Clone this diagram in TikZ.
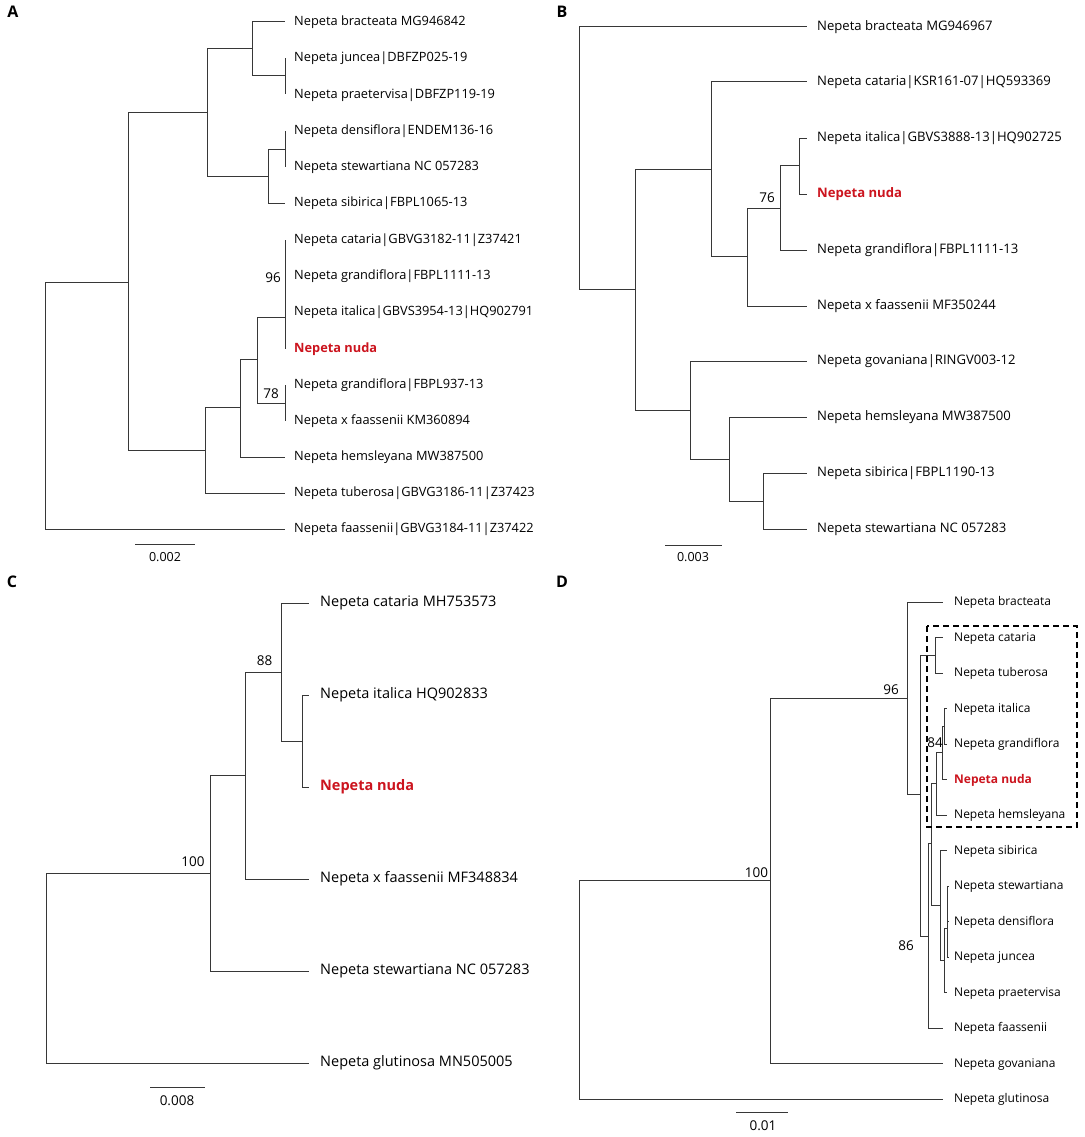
\documentclass[tikz,border=0pt]{standalone}
\usepackage{fontspec}
\setmainfont{Open Sans}
\usetikzlibrary{arrows}
\definecolor{nudared}{RGB}{204,20,30}
\definecolor{treegray}{RGB}{55,55,55}

\begin{document}
\begin{tikzpicture}[x=1pt,y=-1pt]
		\tikzset{branch/.style = {draw=treegray, line width=1pt}}
		\tikzset{tip/.style = {inner sep=0pt, anchor=west, text height=0.72em, text depth=0pt}}
		\tikzset{leafA/.style = {tip, font=\fontsize{12.8}{15}\selectfont}}
		\tikzset{leafB/.style = {tip, font=\fontsize{13.1}{15}\selectfont}}
		\tikzset{leafC/.style = {tip, font=\fontsize{14.5}{17}\selectfont}}
		\tikzset{leafD/.style = {tip, font=\fontsize{12}{14}\selectfont}}
		\tikzset{hl/.style = {text=nudared}}
		\tikzset{support/.style = {inner sep=0pt, font=\fontsize{13.5}{15}\selectfont}}
		\tikzset{panel/.style = {inner sep=0pt, font=\fontsize{16}{18}\selectfont\bfseries}}
		\tikzset{scalebar/.style = {draw=treegray, line width=1pt}}
		\tikzset{group/.style = {draw=black, line width=2pt, dash pattern=on 6pt off 4pt}}

		\fill[white] (0,0) rectangle (1084,1137);
		\useasboundingbox (0,0) rectangle (1084,1137);

		% panel A
		\node[panel] (A) at (13,12) {A};
		\coordinate (A_r) at (45,405);
		\coordinate (A_4) at (128,282);
		\coordinate (A_2) at (207,113);
		\coordinate (A_1) at (252,49);
		\coordinate (A_jp) at (285,76);
		\coordinate (A_3) at (268,176);
		\coordinate (A_ds) at (285,149);
		\coordinate (A_5) at (205,450);
		\coordinate (A_6) at (240,407);
		\coordinate (A_7) at (257,359);
		\coordinate (A_96) at (285,317);
		\coordinate (A_78) at (285,403);

		\coordinate (A_t1) at (285,22);
		\coordinate (A_t2) at (285,58);
		\coordinate (A_t3) at (285,94.5);
		\coordinate (A_t4) at (285,131);
		\coordinate (A_t5) at (285,167);
		\coordinate (A_t6) at (285,203);
		\coordinate (A_t7) at (285,240);
		\coordinate (A_t8) at (285,276);
		\coordinate (A_t9) at (285,312);
		\coordinate (A_t10) at (285,349);
		\coordinate (A_t11) at (285,385);
		\coordinate (A_t12) at (285,421);
		\coordinate (A_t13) at (285,457);
		\coordinate (A_t14) at (285,493);
		\coordinate (A_t15) at (285,529);

		\node[leafA] (A_l1) at (294,22) {Nepeta bracteata MG946842};
		\node[leafA] (A_l2) at (294,58) {Nepeta juncea|DBFZP025-19};
		\node[leafA] (A_l3) at (294,94.5) {Nepeta praetervisa|DBFZP119-19};
		\node[leafA] (A_l4) at (294,131) {Nepeta densiflora|ENDEM136-16};
		\node[leafA] (A_l5) at (294,167) {Nepeta stewartiana NC 057283};
		\node[leafA] (A_l6) at (294,203) {Nepeta sibirica|FBPL1065-13};
		\node[leafA] (A_l7) at (294,240) {Nepeta cataria|GBVG3182-11|Z37421};
		\node[leafA] (A_l8) at (294,276) {Nepeta grandiflora|FBPL1111-13};
		\node[leafA] (A_l9) at (294,312) {Nepeta italica|GBVS3954-13|HQ902791};
		\node[leafA, hl] (A_l10) at (294,349) {\bfseries Nepeta nuda};
		\node[leafA] (A_l11) at (294,385) {Nepeta grandiflora|FBPL937-13};
		\node[leafA] (A_l12) at (294,421) {Nepeta x faassenii KM360894};
		\node[leafA] (A_l13) at (294,457) {Nepeta hemsleyana MW387500};
		\node[leafA] (A_l14) at (294,493) {Nepeta tuberosa|GBVG3186-11|Z37423};
		\node[leafA] (A_l15) at (294,529) {Nepeta faassenii|GBVG3184-11|Z37422};

		\draw[branch] (A_r) |- (A_4);
		\draw[branch] (A_r) |- (A_t15);
		\draw[branch] (A_4) |- (A_2);
		\draw[branch] (A_4) |- (A_5);
		\draw[branch] (A_2) |- (A_1);
		\draw[branch] (A_2) |- (A_3);
		\draw[branch] (A_1) |- (A_t1);
		\draw[branch] (A_1) |- (A_jp);
		\draw[branch] (A_jp) |- (A_t2);
		\draw[branch] (A_jp) |- (A_t3);
		\draw[branch] (A_3) |- (A_ds);
		\draw[branch] (A_3) |- (A_t6);
		\draw[branch] (A_ds) |- (A_t4);
		\draw[branch] (A_ds) |- (A_t5);
		\draw[branch] (A_5) |- (A_6);
		\draw[branch] (A_5) |- (A_t14);
		\draw[branch] (A_6) |- (A_7);
		\draw[branch] (A_6) |- (A_t13);
		\draw[branch] (A_7) |- (A_96);
		\draw[branch] (A_7) |- (A_78);
		\draw[branch] (A_96) |- (A_t7);
		\draw[branch] (A_96) |- (A_t10);
		\draw[branch] (A_78) |- (A_t11);
		\draw[branch] (A_78) |- (A_t12);

		\node[support] (A_s96) at (273,278) {96};
		\node[support] (A_s78) at (271,394) {78};

		\coordinate (A_b1) at (135,544);
		\coordinate (A_b2) at (195,544);
		\draw[scalebar] (A_b1) -- (A_b2);
		\node[support, font=\fontsize{12.5}{14}\selectfont] (A_sc) at (165,557) {0.002};

		% panel B
		\node[panel] (B) at (562,12) {B};
		\coordinate (B_r) at (579,158);
		\coordinate (B_1) at (635,289);
		\coordinate (B_2) at (711,169);
		\coordinate (B_3) at (747,256);
		\coordinate (B_4) at (780,208);
		\coordinate (B_5) at (799,165);
		\coordinate (B_6) at (690,410);
		\coordinate (B_7) at (729,459);
		\coordinate (B_8) at (763,501);

		\coordinate (B_t1) at (807,27);
		\coordinate (B_t2) at (807,82);
		\coordinate (B_t3) at (807,138);
		\coordinate (B_t4) at (807,194);
		\coordinate (B_t5) at (807,250);
		\coordinate (B_t6) at (807,306);
		\coordinate (B_t7) at (807,361);
		\coordinate (B_t8) at (807,417);
		\coordinate (B_t9) at (807,473);
		\coordinate (B_t10) at (807,529);

		\node[leafB] (B_l1) at (817,27) {Nepeta bracteata MG946967};
		\node[leafB] (B_l2) at (817,82) {Nepeta cataria|KSR161-07|HQ593369};
		\node[leafB] (B_l3) at (817,138) {Nepeta italica|GBVS3888-13|HQ902725};
		\node[leafB, hl] (B_l4) at (817,194) {\bfseries Nepeta nuda};
		\node[leafB] (B_l5) at (817,250) {Nepeta grandiflora|FBPL1111-13};
		\node[leafB] (B_l6) at (817,306) {Nepeta x faassenii MF350244};
		\node[leafB] (B_l7) at (817,361) {Nepeta govaniana|RINGV003-12};
		\node[leafB] (B_l8) at (817,417) {Nepeta hemsleyana MW387500};
		\node[leafB] (B_l9) at (817,473) {Nepeta sibirica|FBPL1190-13};
		\node[leafB] (B_l10) at (817,529) {Nepeta stewartiana NC 057283};

		\draw[branch] (B_r) |- (B_t1);
		\draw[branch] (B_r) |- (B_1);
		\draw[branch] (B_1) |- (B_2);
		\draw[branch] (B_1) |- (B_6);
		\draw[branch] (B_2) |- (B_t2);
		\draw[branch] (B_2) |- (B_3);
		\draw[branch] (B_3) |- (B_4);
		\draw[branch] (B_3) |- (B_t6);
		\draw[branch] (B_4) |- (B_5);
		\draw[branch] (B_4) |- (B_t5);
		\draw[branch] (B_5) |- (B_t3);
		\draw[branch] (B_5) |- (B_t4);
		\draw[branch] (B_6) |- (B_t7);
		\draw[branch] (B_6) |- (B_7);
		\draw[branch] (B_7) |- (B_t8);
		\draw[branch] (B_7) |- (B_8);
		\draw[branch] (B_8) |- (B_t9);
		\draw[branch] (B_8) |- (B_t10);

		\node[support] (B_s76) at (767,198) {76};

		\coordinate (B_b1) at (665,545);
		\coordinate (B_b2) at (722,545);
		\draw[scalebar] (B_b1) -- (B_b2);
		\node[support, font=\fontsize{12.5}{14}\selectfont] (B_sc) at (693,557) {0.003};

		% panel C
		\node[panel] (C) at (12,582) {C};
		\coordinate (C_r) at (46,968);
		\coordinate (C_1) at (210,873);
		\coordinate (C_2) at (245,775.5);
		\coordinate (C_3) at (281,672);
		\coordinate (C_4) at (302,741);

		\coordinate (C_t1) at (309,603);
		\coordinate (C_t2) at (309,695);
		\coordinate (C_t3) at (309,787);
		\coordinate (C_t4) at (309,879);
		\coordinate (C_t5) at (309,971);
		\coordinate (C_t6) at (309,1063);

		\node[leafC] (C_l1) at (320,603) {Nepeta cataria MH753573};
		\node[leafC] (C_l2) at (320,695) {Nepeta italica HQ902833};
		\node[leafC, hl] (C_l3) at (320,787) {\bfseries Nepeta nuda};
		\node[leafC] (C_l4) at (320,879) {Nepeta x faassenii MF348834};
		\node[leafC] (C_l5) at (320,971) {Nepeta stewartiana NC 057283};
		\node[leafC] (C_l6) at (320,1063) {Nepeta glutinosa MN505005};

		\draw[branch] (C_r) |- (C_1);
		\draw[branch] (C_r) |- (C_t6);
		\draw[branch] (C_1) |- (C_2);
		\draw[branch] (C_1) |- (C_t5);
		\draw[branch] (C_2) |- (C_3);
		\draw[branch] (C_2) |- (C_t4);
		\draw[branch] (C_3) |- (C_t1);
		\draw[branch] (C_3) |- (C_4);
		\draw[branch] (C_4) |- (C_t2);
		\draw[branch] (C_4) |- (C_t3);

		\node[support] (C_s100) at (193,862) {100};
		\node[support] (C_s88) at (264.5,661) {88};

		\coordinate (C_b1) at (150,1087);
		\coordinate (C_b2) at (205,1087);
		\draw[scalebar] (C_b1) -- (C_b2);
		\node[support] (C_sc) at (177,1101) {0.008};

		% panel D
		\node[panel] (D) at (562,582) {D};
		\coordinate (D_r) at (579,990);
		\coordinate (D_1) at (770,880);
		\coordinate (D_96) at (907,698);
		\coordinate (D_2) at (920,794.5);
		\coordinate (D_ct) at (935,655);
		\coordinate (D_86) at (928,936);
		\coordinate (D_3) at (931,843);
		\coordinate (D_84) at (936,783);
		\coordinate (D_n1) at (942,752);
		\coordinate (D_n0) at (944,726);
		\coordinate (D_s) at (940,905);
		\coordinate (D_p) at (944,960);
		\coordinate (D_q) at (947,928);

		\coordinate (D_t1) at (943,602);
		\coordinate (D_t2) at (943,637.5);
		\coordinate (D_t3) at (943,673);
		\coordinate (D_t4) at (947,708.5);
		\coordinate (D_t5) at (947,744);
		\coordinate (D_t6) at (947,779.5);
		\coordinate (D_t7) at (947,815);
		\coordinate (D_t8) at (947,850.5);
		\coordinate (D_t9) at (949,886);
		\coordinate (D_t10) at (949,921.5);
		\coordinate (D_t11) at (949,957);
		\coordinate (D_t12) at (947,992.5);
		\coordinate (D_t13) at (943,1028);
		\coordinate (D_t14) at (943,1063.5);
		\coordinate (D_t15) at (943,1099);

		\node[leafD] (D_l1) at (954,602) {Nepeta bracteata};
		\node[leafD] (D_l2) at (954,637.5) {Nepeta cataria};
		\node[leafD] (D_l3) at (954,673) {Nepeta tuberosa};
		\node[leafD] (D_l4) at (954,708.5) {Nepeta italica};
		\node[leafD] (D_l5) at (954,744) {Nepeta grandiflora};
		\node[leafD, hl] (D_l6) at (954,779.5) {\bfseries Nepeta nuda};
		\node[leafD] (D_l7) at (954,815) {Nepeta hemsleyana};
		\node[leafD] (D_l8) at (954,850.5) {Nepeta sibirica};
		\node[leafD] (D_l9) at (954,886) {Nepeta stewartiana};
		\node[leafD] (D_l10) at (954,921.5) {Nepeta densiflora};
		\node[leafD] (D_l11) at (954,957) {Nepeta juncea};
		\node[leafD] (D_l12) at (954,992.5) {Nepeta praetervisa};
		\node[leafD] (D_l13) at (954,1028) {Nepeta faassenii};
		\node[leafD] (D_l14) at (954,1063.5) {Nepeta govaniana};
		\node[leafD] (D_l15) at (954,1099) {Nepeta glutinosa};

		\draw[branch] (D_r) |- (D_1);
		\draw[branch] (D_r) |- (D_t15);
		\draw[branch] (D_1) |- (D_96);
		\draw[branch] (D_1) |- (D_t14);
		\draw[branch] (D_96) |- (D_t1);
		\draw[branch] (D_96) |- (D_2);
		\draw[branch] (D_2) |- (D_ct);
		\draw[branch] (D_2) |- (D_86);
		\draw[branch] (D_ct) |- (D_t2);
		\draw[branch] (D_ct) |- (D_t3);
		\draw[branch] (D_86) |- (D_3);
		\draw[branch] (D_86) |- (D_t13);
		\draw[branch] (D_3) |- (D_84);
		\draw[branch] (D_3) |- (D_s);
		\draw[branch] (D_84) |- (D_n1);
		\draw[branch] (D_84) |- (D_t7);
		\draw[branch] (D_n1) |- (D_n0);
		\draw[branch] (D_n1) |- (D_t6);
		\draw[branch] (D_n0) |- (D_t4);
		\draw[branch] (D_n0) |- (D_t5);
		\draw[branch] (D_s) |- (D_t8);
		\draw[branch] (D_s) |- (D_p);
		\draw[branch] (D_p) |- (D_q);
		\draw[branch] (D_p) |- (D_t12);
		\draw[branch] (D_q) |- (D_t9);
		\draw[branch] (D_q) |- (D_t10);
		\draw[branch] (D_q) |- (D_t11);

		\node[support] (D_s100) at (756.5,872.5) {100};
		\node[support] (D_s96) at (891,690) {96};
		\node[support] (D_s86) at (906,946) {86};
		\node[support] (D_s84) at (935,743) {84};

		\coordinate (D_g1) at (927,626);
		\coordinate (D_g2) at (1077,827);
		\draw[group] (D_g1) rectangle (D_g2);

		\coordinate (D_b1) at (736,1112.5);
		\coordinate (D_b2) at (787.5,1112.5);
		\draw[scalebar] (D_b1) -- (D_b2);
		\node[support] (D_sc) at (763,1126) {0.01};
	\end{tikzpicture}
\end{document}
